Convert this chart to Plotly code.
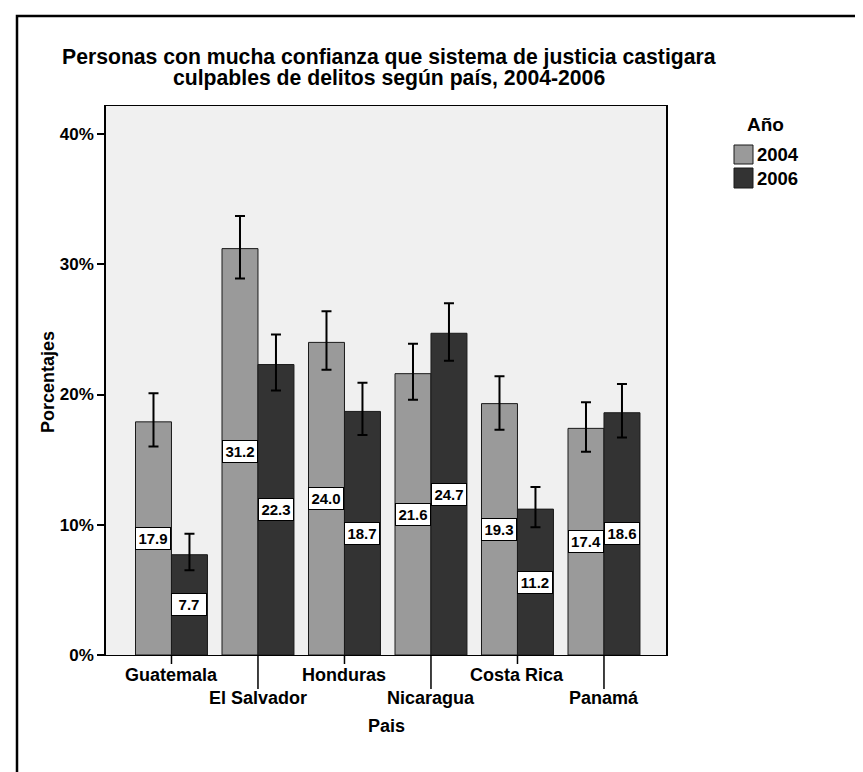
import plotly.graph_objects as go

countries = ["Guatemala", "El Salvador", "Honduras", "Nicaragua", "Costa Rica", "Panamá"]
years = ["2004", "2006"]
vals_2004 = [17.9, 31.2, 24.0, 21.6, 19.3, 17.4]
upper_2004 = [20.1, 33.7, 26.4, 23.9, 21.4, 19.4]
lower_2004 = [16.0, 28.9, 21.9, 19.6, 17.3, 15.6]
vals_2006 = [7.7, 22.3, 18.7, 24.7, 11.2, 18.6]
upper_2006 = [9.3, 24.6, 20.9, 27.0, 12.9, 20.8]
lower_2006 = [6.5, 20.3, 16.9, 22.6, 9.8, 16.7]
y_ticks = [0, 10, 20, 30, 40]
title_lines = ["Personas con mucha confianza que sistema de justicia castigara",
               "culpables de delitos según país, 2004-2006"]

FONT = "Liberation Sans, Arial, sans-serif"
W, H = 863, 772
L, R, T, B = 98, 658, 98, 647
PW, PH = R - L, B - T


def px(x):
    return (x - L) / PW


def py(y):
    return (B - y) / PH


colors = {"2004": "#9a9a9a", "2006": "#333333"}
series = {
    "2004": (vals_2004, upper_2004, lower_2004),
    "2006": (vals_2006, upper_2006, lower_2006),
}

xs = list(range(len(countries)))
fig = go.Figure()
for yr in years:
    v, up, lo = series[yr]
    fig.add_trace(go.Bar(
        x=xs, y=v, name=yr,
        marker=dict(color=colors[yr], line=dict(color="#1a1a1a", width=1)),
        error_y=dict(type="data", symmetric=False,
                     array=[u - a for u, a in zip(up, v)],
                     arrayminus=[a - l for a, l in zip(v, lo)],
                     color="black", thickness=2, width=5),
        offsetgroup=yr,
        showlegend=False,
    ))

# value labels centred in bars
group_w = 1 - 0.168
bar_w = group_w / 2
for i, yr in enumerate(years):
    v = series[yr][0]
    for j, a in enumerate(v):
        xc = j - group_w / 2 + bar_w * (i + 0.5)
        fig.add_annotation(x=xc, y=a / 2, xref="x", yref="y", text=f"<b>{a:.1f}</b>",
                           showarrow=False, bgcolor="white", bordercolor="black",
                           borderwidth=1, borderpad=2, width=30, height=17,
                           xanchor="center", yanchor="middle",
                           font=dict(family=FONT, size=15, color="black"))


def label(x, y, text, size, xanchor="center", xref="paper", angle=0):
    fig.add_annotation(x=x, y=y, xref=xref, yref="paper", text=text, showarrow=False,
                       xanchor=xanchor, yanchor="middle", textangle=angle,
                       font=dict(family=FONT, size=size, color="black"))


# staggered category labels
shapes = []
for j, c in enumerate(countries):
    row2 = j % 2 == 1
    tick_len = 34 if row2 else 9
    shapes.append(dict(type="line", xref="x", yref="paper", x0=j, x1=j,
                       y0=0, y1=-tick_len / PH, line=dict(color="black", width=1.5)))
    label(j, py(690 if row2 else 667), f"<b>{c}</b>", 18, xref="x")

# axis titles
label(0.5, py(718), "<b>Pais</b>", 18)
label(px(40), py(374), "<b>Porcentajes</b>", 18, angle=-90)

# title (two lines)
for line, yy in zip(title_lines, [49, 70]):
    label(px(381), py(yy), f"<b>{line}</b>", 21.2)

# legend drawn manually
label(px(757), py(117), "<b>Año</b>", 19)
for yr, (y0, y1) in zip(years, [(137, 156), (160, 180)]):
    shapes.append(dict(type="rect", xref="paper", yref="paper",
                       x0=px(726), x1=px(745), y0=py(y1), y1=py(y0),
                       fillcolor=colors[yr], line=dict(color="#1a1a1a", width=1)))
    label(px(747), py((y0 + y1) / 2), f"<b>{yr}</b>", 18.5, xanchor="left")

# outer frame
shapes.append(dict(type="rect", xref="paper", yref="paper",
                   x0=px(9), x1=px(W + 20), y0=py(H + 20), y1=py(8),
                   line=dict(color="black", width=2.5), fillcolor="rgba(0,0,0,0)", layer="below"))

fig.update_layout(
    width=W, height=H,
    margin=dict(l=L, r=W - R, t=T, b=H - B),
    paper_bgcolor="white", plot_bgcolor="#f0f0f0",
    barmode="group", bargap=0.168, bargroupgap=0,
    xaxis=dict(range=[-0.757, 5.717], showticklabels=False, ticks="",
               showgrid=False, zeroline=False, showline=True, linecolor="black", linewidth=1,
               mirror=True),
    yaxis=dict(range=[0, 42.15], tickvals=y_ticks, ticktext=[f"<b>{t}%</b>" for t in y_ticks],
               ticks="outside", ticklen=7, tickcolor="black", tickwidth=1.5,
               showgrid=False, zeroline=False, showline=True, linecolor="black", linewidth=1.5,
               mirror=True,
               tickfont=dict(family=FONT, size=17, color="black")),
    shapes=shapes,
    showlegend=False,
)

fig.write_html("out.html")
